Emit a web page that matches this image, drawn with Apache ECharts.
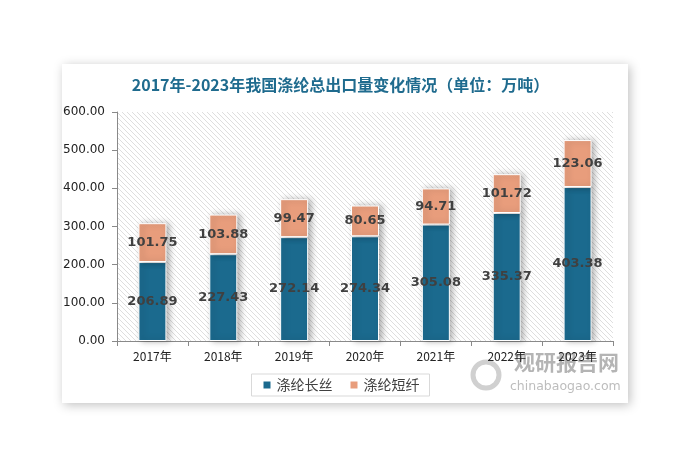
<!DOCTYPE html>
<html><head><meta charset="utf-8">
<script src="https://cdn.jsdelivr.net/npm/echarts@6/dist/echarts.min.js"></script>
<style>html,body{margin:0;padding:0;background:#fff}#c{width:681px;height:462px}</style>
</head><body><div id="c"></div>
<script>
const categories = ['2017年','2018年','2019年','2020年','2021年','2022年','2023年'];
const filament = [206.89,227.43,272.14,274.34,305.08,335.37,403.38];
const staple = [101.75,103.88,99.47,80.65,94.71,101.72,123.06];
const seriesNames = ['涤纶长丝','涤纶短纤'];
const titleText = '2017年-2023年我国涤纶总出口量变化情况（单位：万吨）';

// hatch pattern
const T = 5;
const pc = document.createElement('canvas');
pc.width = T; pc.height = T;
const pctx = pc.getContext('2d');
pctx.fillStyle = '#ffffff'; pctx.fillRect(0,0,T,T);
pctx.strokeStyle = '#dedede'; pctx.lineWidth = 1;
pctx.beginPath();
pctx.moveTo(0,0); pctx.lineTo(T,T);
pctx.moveTo(-T,0); pctx.lineTo(T,2*T);
pctx.moveTo(0,-T); pctx.lineTo(2*T,T);
pctx.stroke();

const chart = echarts.init(document.getElementById('c'));
const labelStyle = {show:true, position:'inside', color:'#404040', fontWeight:'bold', fontSize:13,
  fontFamily:'DejaVu Sans, sans-serif', formatter: p => p.value.toFixed(2)};
const barShadow = {shadowColor:'rgba(0,0,0,0.3)', shadowBlur:6, shadowOffsetX:3, shadowOffsetY:0};
chart.setOption({
  backgroundColor:'#fff',
  animation:false,
  title:{text:titleText, left:'center', top:72,
    textStyle:{color:'#1f6b8e', fontSize:16, fontWeight:'bold', fontFamily:'Noto Sans CJK SC'}},
  graphic:[
    {type:'rect', z:-10, silent:true, shape:{x:62,y:64,width:566,height:339},
      style:{fill:'#fff', shadowColor:'rgba(0,0,0,0.25)', shadowBlur:10, shadowOffsetX:2, shadowOffsetY:2}},
    {type:'text', z:-5, left:514, top:352, style:{text:'观研报告网', fill:'#b4b4b4', font:'bold 21px "Noto Sans CJK SC"'}},
    {type:'text', z:-5, left:510, top:380, style:{text:'chinabaogao.com', fill:'#bdbdbd', font:'12.5px "DejaVu Sans"'}},
    {type:'circle', z:-5, shape:{cx:486,cy:375,r:13}, style:{fill:'none', stroke:'#d0d0d0', lineWidth:5}}
  ],
  legend:{bottom:66, left:'center', itemWidth:9, itemHeight:9, icon:'rect', itemGap:16,
    borderColor:'#d9d9d9', borderWidth:1, padding:[4,10],
    textStyle:{color:'#404040', fontSize:14, fontFamily:'Noto Sans CJK SC'},
    data:seriesNames},
  grid:{left:117, right:68, top:112, bottom:121, show:true, borderWidth:0,
    backgroundColor:{image:pc, repeat:'repeat'}},
  xAxis:{type:'category', data:categories,
    axisLine:{lineStyle:{color:'#898989'}},
    axisTick:{show:true, length:5, lineStyle:{color:'#898989'}},
    axisLabel:{color:'#222', fontSize:12, margin:9, fontFamily:'Noto Sans CJK SC'}},
  yAxis:{type:'value', min:0, max:600, interval:100,
    axisLine:{show:true, lineStyle:{color:'#898989'}},
    axisTick:{show:true, length:5, lineStyle:{color:'#898989'}},
    splitLine:{show:false},
    axisLabel:{color:'#222', fontSize:12, margin:12, fontFamily:'DejaVu Sans', formatter:v=>v.toFixed(2)}},
  series:[
    {name:seriesNames[0], type:'bar', stack:'t', data:filament, barWidth:28,
      itemStyle:Object.assign({color:'#1b6a8e', borderColor:'#fff', borderWidth:1}, barShadow),
      label:labelStyle},
    {name:seriesNames[1], type:'bar', stack:'t', data:staple, barWidth:28,
      itemStyle:Object.assign({color:'#e89d7c', borderColor:'#fff', borderWidth:1}, barShadow),
      label:labelStyle}
  ]
});
</script></body></html>
